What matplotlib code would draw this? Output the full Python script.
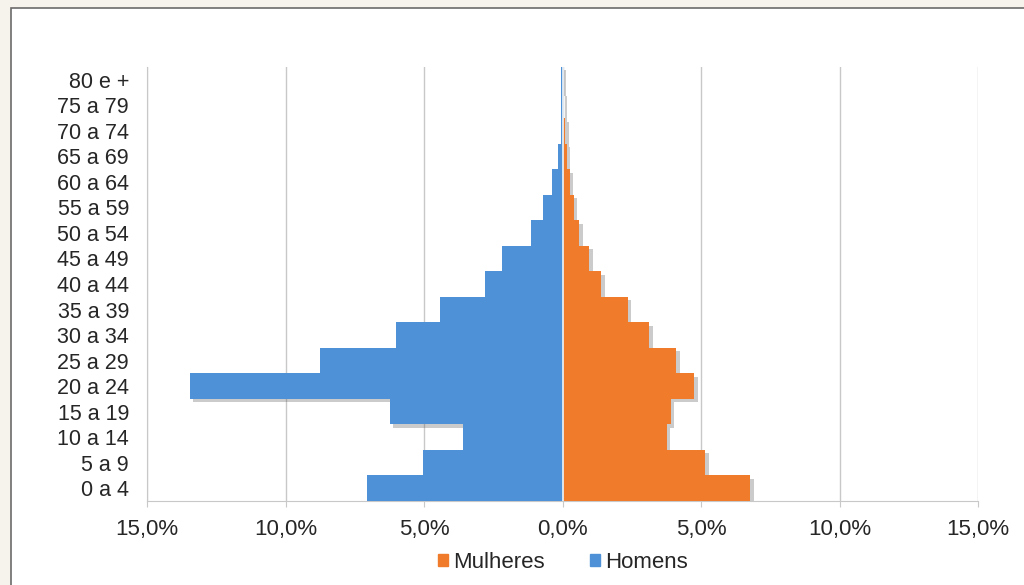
import matplotlib.pyplot as plt
import matplotlib.patches as mpatches
import matplotlib.patheffects as pe
from matplotlib.ticker import FuncFormatter

plt.rcParams["font.family"] = ["Liberation Sans", "DejaVu Sans"]

# faixas etarias (de baixo para cima)
faixas = ["0 a 4", "5 a 9", "10 a 14", "15 a 19", "20 a 24", "25 a 29", "30 a 34",
          "35 a 39", "40 a 44", "45 a 49", "50 a 54", "55 a 59", "60 a 64",
          "65 a 69", "70 a 74", "75 a 79", "80 e +"]
homens = [7.07, 5.05, 3.58, 6.24, 13.45, 8.77, 6.02, 4.42, 2.79, 2.18, 1.13,
          0.71, 0.37, 0.15, 0.05, 0.05, 0.06]
mulheres = [6.78, 5.16, 3.77, 3.90, 4.75, 4.10, 3.13, 2.36, 1.40, 0.97, 0.60,
            0.40, 0.27, 0.15, 0.10, 0.02, 0.0]

cor_h = "#4f91d6"
cor_m = "#ef7b2b"

fig = plt.figure(figsize=(10.24, 5.85), dpi=100)
fig.patch.set_facecolor("#f6f2ec")
# caixa branca do grafico
fig.patches.append(mpatches.Rectangle((11 / 1024, -0.05), 1.1, 1 - 8 / 585 + 0.05,
                                      transform=fig.transFigure, facecolor="white",
                                      edgecolor="#6b6b6b", linewidth=1.2, zorder=-5))

ax = fig.add_axes([147 / 1024, 84 / 585, 831 / 1024, 434 / 585])
ax.set_facecolor("white")

y = list(range(len(faixas)))
neg = [-v for v in homens]

# sombra por baixo de todas as barras
so_sombra = [pe.SimplePatchShadow(offset=(2.5, -2.5), alpha=0.3, shadow_rgbFace="#555555")]
for vals in (neg, mulheres):
    s = ax.barh(y, vals, height=1.0, color="none", zorder=2)
    for b in s:
        b.set_path_effects(so_sombra)

ax.barh(y, neg, height=1.0, color=cor_h, zorder=3)
ax.barh(y, mulheres, height=1.0, color=cor_m, zorder=3)
ax.axvline(0, color="#e4ecf4", lw=1.3, zorder=4)

ax.set_xlim(-15, 15)
ax.set_ylim(-0.5, len(faixas) - 0.5)
ax.set_xticks([-15, -10, -5, 0, 5, 10, 15])
ax.xaxis.set_major_formatter(FuncFormatter(lambda v, p: f"{abs(v):.1f}%".replace(".", ",")))
ax.set_yticks(y)
ax.set_yticklabels(faixas)
ax.grid(axis="x", color="#c8c8c8", lw=1, zorder=0)
for s in ["top", "right"]:
    ax.spines[s].set_visible(False)
ax.spines["left"].set_color("#c8c8c8")
ax.spines["bottom"].set_color("#c8c8c8")
ax.tick_params(axis="y", length=0, labelsize=15.5, pad=13, labelcolor="#262626")
ax.tick_params(axis="x", length=4, color="#c8c8c8", labelsize=16, pad=9, labelcolor="#262626")

handles = [mpatches.Patch(color=cor_m), mpatches.Patch(color=cor_h)]
fig.legend(handles, ["Mulheres", "Homens"], loc="center",
           bbox_to_anchor=(563 / 1024, 1 - 562 / 585),
           ncol=2, frameon=False, fontsize=16, handlelength=0.45, handleheight=0.45,
           handletextpad=0.25, columnspacing=2.0, labelcolor="#262626")

fig.savefig("out.png", dpi=100, facecolor=fig.get_facecolor())
